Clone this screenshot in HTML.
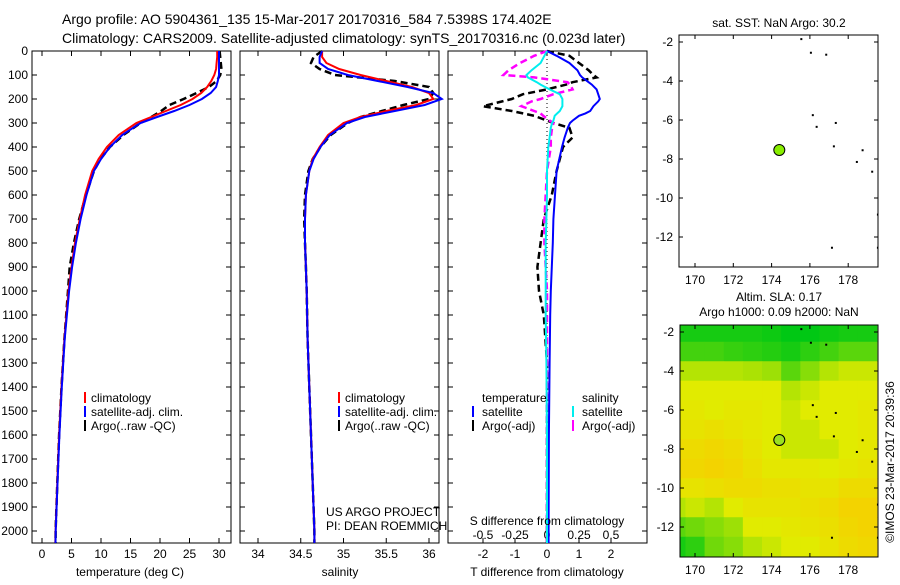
<!DOCTYPE html>
<html><head><meta charset="utf-8"><style>
body{margin:0;background:#fff;}
svg{font-family:"Liberation Sans",sans-serif;}
</style></head><body>
<svg id="c" width="900" height="580" xmlns="http://www.w3.org/2000/svg">
<text x="62" y="24" font-size="14">Argo profile: AO 5904361_135 15-Mar-2017 20170316_584 7.5398S 174.402E</text>
<text x="62" y="43" font-size="14">Climatology: CARS2009. Satellite-adjusted climatology: synTS_20170316.nc (0.023d later)</text>
</svg>
<script>
const depthP=[0,25,50,75,100,125,150,175,200,225,250,275,300,350,400,450,500,600,700,800,900,1000,1200,1400,1600,1800,2000,2050];
const tClim=[29.7,29.7,29.6,29.5,29.2,28.7,28,27,25.5,23.5,21,18.5,16,13,11,9.6,8.5,7.3,6.4,5.6,5,4.5,3.8,3.3,2.9,2.6,2.3,2.25];
const tSat=[30,30,30,30,30,29.8,29.5,28.6,27.1,25,22.4,19.5,16.7,13.6,11.5,10,8.8,7.55,6.55,5.75,5.1,4.6,3.85,3.35,2.95,2.63,2.33,2.28];
const tArgo=[30.1,30.2,30.3,30.4,30.2,29.6,28.3,26.2,24,21.6,20.2,18.5,16.7,13.8,11.5,9.9,8.8,7.45,6.3,5.4,4.7,4.4,3.8,3.3,2.9,2.6,2.3,2.3];
const sClim=[34.75,34.75,34.8,34.95,35.2,35.5,35.8,36,36.05,35.85,35.5,35.2,35.0,34.82,34.72,34.64,34.6,34.56,34.55,34.55,34.56,34.57,34.58,34.6,34.62,34.64,34.66,34.66];
const sSat=[34.75,34.72,34.72,34.82,35.05,35.4,35.75,36.05,36.15,35.95,35.6,35.25,35.04,34.84,34.73,34.65,34.6,34.56,34.55,34.55,34.56,34.57,34.58,34.6,34.62,34.64,34.66,34.66];
const sArgo=[34.75,34.65,34.62,34.72,34.9,35.6,36,36.05,36.0,35.7,35.45,35.2,35.05,34.85,34.73,34.64,34.59,34.55,34.54,34.55,34.56,34.57,34.58,34.6,34.62,34.64,34.66,34.66];
const depthD=[0,20,50,80,100,110,130,140,160,180,200,210,230,250,260,270,290,300,320,360,400,500,600,700,800,900,1000,1100,1300,1600,2000,2050];
const dTSat=[0,0.3,0.7,0.95,1.03,1.1,1.3,1.4,1.55,1.6,1.65,1.6,1.45,1.35,1.2,1.0,0.8,0.72,0.65,0.55,0.47,0.3,0.25,0.2,0.18,0.15,0.12,0.1,0.08,0.06,0.05,0.05];
const dTArgo=[0,0.7,1.0,1.3,1.45,1.55,0.8,0.6,0.0,-0.75,-1.1,-1.4,-2.0,-1.1,-0.75,-0.4,0,0.2,0.7,0.8,0.5,0.3,0.15,-0.1,-0.2,-0.3,-0.25,-0.1,0,0,0,0];
const dSSat=[0,-0.02,-0.05,-0.12,-0.16,-0.15,-0.08,-0.05,0.02,0.1,0.12,0.12,0.12,0.1,0.08,0.06,0.05,0.04,0.03,0.02,0.01,0,0,-0.005,-0.01,-0.01,-0.01,-0.01,-0.005,0,0,0];
const dSArgo=[0,-0.1,-0.21,-0.3,-0.34,-0.1,0.16,0.18,0.2,0.05,-0.05,-0.12,-0.2,-0.1,-0.05,-0.03,0.02,0.05,0.04,0.03,0.03,0,-0.01,-0.02,-0.02,-0.01,0,0,0,0,0,0];
const depthTicks=[0,100,200,300,400,500,600,700,800,900,1000,1100,1200,1300,1400,1500,1600,1700,1800,1900,2000];
const tTicks=[0,5,10,15,20,25,30];
const sTicks=[34,34.5,35,35.5,36];
const dTTicks=[-2,-1,0,1,2];
const dSTicks=[-0.5,-0.25,0,0.25,0.5];
const lonTicks=[170,172,174,176,178];
const latTicks1=[-2,-4,-6,-8,-10,-12];
const floatLon=174.402, floatLat=-7.5398;
const islandLon=[175.5,176,176.8,176.1,176.3,177.3,177.2,178.7,178.4,179.2,177.1,179.5,179.5];
const islandLat=[-1.8,-2.5,-2.6,-5.7,-6.3,-6.1,-7.3,-7.5,-8.1,-8.6,-12.5,-12.5,-10.8];
const slaLats=[-2,-3,-4,-5,-6,-7,-8,-9,-10,-11,-12,-13];
const slaLons=[169,170,171,172,173,174,175,176,177,178,179];
const sla=[
[0.05,0.05,0.05,0.05,0.05,0.03,0,0,0.03,0.05,0.05],
[0.15,0.15,0.15,0.12,0.1,0.08,0.05,0.1,0.15,0.2,0.2],
[0.4,0.4,0.4,0.4,0.38,0.35,0.2,0.3,0.4,0.45,0.45],
[0.5,0.5,0.5,0.5,0.5,0.5,0.4,0.45,0.5,0.5,0.5],
[0.55,0.55,0.5,0.55,0.55,0.5,0.45,0.5,0.5,0.5,0.55],
[0.6,0.6,0.65,0.6,0.55,0.5,0.45,0.45,0.5,0.5,0.55],
[0.7,0.7,0.75,0.7,0.6,0.5,0.45,0.45,0.45,0.5,0.55],
[0.75,0.75,0.8,0.75,0.65,0.55,0.55,0.55,0.5,0.55,0.6],
[0.6,0.6,0.65,0.7,0.7,0.65,0.65,0.6,0.6,0.7,0.7],
[0.4,0.45,0.4,0.5,0.6,0.6,0.6,0.65,0.7,0.8,0.8],
[0.2,0.25,0.3,0.35,0.5,0.5,0.55,0.6,0.65,0.75,0.8],
[0.05,0.1,0.25,0.3,0.4,0.45,0.5,0.5,0.6,0.7,0.75]];

const svg=document.getElementById('c');
const NS='http://www.w3.org/2000/svg';
function mk(tag,attrs,parent){const e=document.createElementNS(NS,tag);for(const k in attrs)e.setAttribute(k,attrs[k]);(parent||svg).appendChild(e);return e;}
function txt(x,y,s,size,anchor,parent){const t=mk('text',{x:x,y:y,'font-size':size||12,'text-anchor':anchor||'start'},parent);t.textContent=s;return t;}
const Y=d=>51+d*0.24;
const PB=543;
function panel(x0,x1,name){
  const g=mk('g',{});
  
  
  mk('rect',{x:x0,y:51,width:x1-x0,height:PB-51,fill:'none',stroke:'#000','stroke-width':1},g);
  return g;
}
function line(g,xs,ys,xf,color,dash,name,w){
  let d='';for(let i=0;i<xs.length;i++){d+=(i?'L':'M')+xf(xs[i]).toFixed(1)+','+Y(ys[i]).toFixed(1);}
  const p=mk('path',{d:d,fill:'none',stroke:color,'stroke-width':w||2,'stroke-dasharray':dash||'none'},g);
  
  
}
function xticks(g,ticks,xf,labelY){
  ticks.forEach(t=>{const x=xf(t);mk('line',{x1:x,x2:x,y1:PB,y2:PB-5,stroke:'#000'},g);mk('line',{x1:x,x2:x,y1:51,y2:56,stroke:'#000'},g);
    const l=txt(x,labelY,String(t),12,'middle',g);
    
    });
}
// panel 1
const xT=v=>42+v*5.9;
const g1=panel(32,231,'temperature-panel');
depthTicks.forEach(d=>{mk('line',{x1:32,x2:37,y1:Y(d),y2:Y(d),stroke:'#000'},g1);mk('line',{x1:226,x2:231,y1:Y(d),y2:Y(d),stroke:'#000'},g1);
  const l=txt(28,Y(d)+4,String(d),12,'end',g1);
  
  });
xticks(g1,tTicks,xT,558);
line(g1,tArgo,depthP,xT,'#000','7,4','argo-temperature-line',2.5);
line(g1,tClim,depthP,xT,'#f00',null,'climatology-temperature-line');
line(g1,tSat,depthP,xT,'#00f',null,'satellite-temperature-line');
const xl1=txt(130,576,'temperature (deg C)',12,'middle',g1);


function legend(g,x,y){
  [['#f00','climatology'],['#00f','satellite-adj. clim.'],['#000','Argo(..raw -QC)']].forEach((e,i)=>{
    mk('line',{x1:x,x2:x,y1:y+i*14-10,y2:y+i*14+1,stroke:e[0],'stroke-width':2},g);
    const t=txt(x+6,y+i*14,e[1],12,'start',g);
    
    });
}
legend(g1,85,402);
// panel 2
const xS=v=>258+(v-34)*85.5;
const g2=panel(240,439,'salinity-panel');
depthTicks.forEach(d=>{mk('line',{x1:240,x2:245,y1:Y(d),y2:Y(d),stroke:'#000'},g2);mk('line',{x1:434,x2:439,y1:Y(d),y2:Y(d),stroke:'#000'},g2);});
xticks(g2,sTicks,xS,558);
line(g2,sArgo,depthP,xS,'#000','7,4','argo-salinity-line',2.5);
line(g2,sClim,depthP,xS,'#f00',null,'climatology-salinity-line');
line(g2,sSat,depthP,xS,'#00f',null,'satellite-salinity-line');
const xl2=txt(340,576,'salinity',12,'middle',g2);


legend(g2,339,402);
txt(326,516,'US ARGO PROJECT',12,'start',g2);
txt(326,530,'PI: DEAN ROEMMICH',12,'start',g2);
// panel 3
const xDT=v=>547+v*32, xDS=v=>547+v*128;
const g3=panel(448,647,'difference-panel');
depthTicks.forEach(d=>{mk('line',{x1:448,x2:453,y1:Y(d),y2:Y(d),stroke:'#000'},g3);mk('line',{x1:642,x2:647,y1:Y(d),y2:Y(d),stroke:'#000'},g3);});
xticks(g3,dTTicks,xDT,558);
dSTicks.forEach(t=>{const l=txt(xDS(t),539,String(t),12,'middle',g3);
  
  });
mk('line',{x1:547,x2:547,y1:51,y2:PB,stroke:'#000','stroke-dasharray':'1,3'},g3);
line(g3,dTArgo,depthD,xDT,'#000','7,4','argo-temperature-diff-line',2.5);
line(g3,dSArgo,depthD,xDS,'#f0f','7,4','argo-salinity-diff-line',2.5);
line(g3,dTSat,depthD,xDT,'#00f',null,'satellite-temperature-diff-line');
line(g3,dSSat,depthD,xDS,'#0ee',null,'satellite-salinity-diff-line');
txt(547,525,'S difference from climatology',12,'middle',g3);
const xl3=txt(547,576,'T difference from climatology',12,'middle',g3);


txt(482,402,'temperature',12,'start',g3);txt(582,402,'salinity',12,'start',g3);
[['#00f','#0ee','satellite'],['#000','#f0f','Argo(-adj)']].forEach((e,i)=>{const y=416+i*14;
  mk('line',{x1:473,x2:473,y1:y-10,y2:y+1,stroke:e[0],'stroke-width':2},g3);txt(482,y,e[2],12,'start',g3);
  mk('line',{x1:573,x2:573,y1:y-10,y2:y+1,stroke:e[1],'stroke-width':2},g3);txt(582,y,e[2],12,'start',g3);});
// maps
const LX=v=>695+(v-170)*19.15;
function map(x0,y0,x1,y1,lat2y,name,heat){
  const g=mk('g',{});
  
  
  const cid='clip'+name;const cp=mk('clipPath',{id:cid},g);mk('rect',{x:x0,y:y0,width:x1-x0,height:y1-y0},cp);
  const inner=mk('g',{'clip-path':'url(#'+cid+')'},g);
  if(heat){
    const col=v=>{let r,gg,b;if(v<0.5){const t=v/0.5;r=t*225;gg=200+t*35;b=20-t*20;}else{const t=(v-0.5)/0.5;r=225+t*30;gg=235-t*40;b=0;}return `rgb(${r|0},${gg|0},${b|0})`;};
    sla.forEach((row,i)=>row.forEach((v,j)=>{const xa=LX(slaLons[j]-0.5),ya=lat2y(slaLats[i]+0.5);
      const c=mk('rect',{x:xa,y:ya,width:19.6,height:lat2y(slaLats[i]-0.5)-ya+0.5,fill:col(v)},inner);
      
      }));
  }
  islandLon.forEach((lo,i)=>{const d=mk('rect',{x:LX(lo),y:lat2y(islandLat[i]),width:2,height:2,fill:'#000'},inner);
    
    });
  const c=mk('circle',{cx:LX(floatLon),cy:lat2y(floatLat),r:5.5,fill:heat?'#9be020':'#88ee00',stroke:'#000'},inner);
  
  
  mk('rect',{x:x0,y:y0,width:x1-x0,height:y1-y0,fill:'none',stroke:'#000'},g);
  lonTicks.forEach(t=>{const x=LX(t);mk('line',{x1:x,x2:x,y1:y1,y2:y1-4,stroke:'#000'},g);mk('line',{x1:x,x2:x,y1:y0,y2:y0+4,stroke:'#000'},g);txt(x,y1+17,String(t),12,'middle',g);});
  latTicks1.forEach(t=>{const y=lat2y(t);mk('line',{x1:x0,x2:x0+4,y1:y,y2:y,stroke:'#000'},g);mk('line',{x1:x1,x2:x1-4,y1:y,y2:y,stroke:'#000'},g);txt(x0-6,y+4,String(t),12,'end',g);});
  return g;
}
map(679,35,878,267,v=>42+(-2-v)*19.5,'sst-map',false);
txt(779,27,'sat. SST: NaN Argo: 30.2',12,'middle');
map(680,325,878,557,v=>332+(-2-v)*19.5,'sla-map',true);
txt(779,301,'Altim. SLA: 0.17',12,'middle');
txt(779,316,'Argo h1000: 0.09 h2000: NaN',12,'middle');
const ts=txt(0,0,'©IMOS 23-Mar-2017 20:39:36',12,'middle');
ts.setAttribute('transform','translate(894,462) rotate(-90)');


</script>
</body></html>
